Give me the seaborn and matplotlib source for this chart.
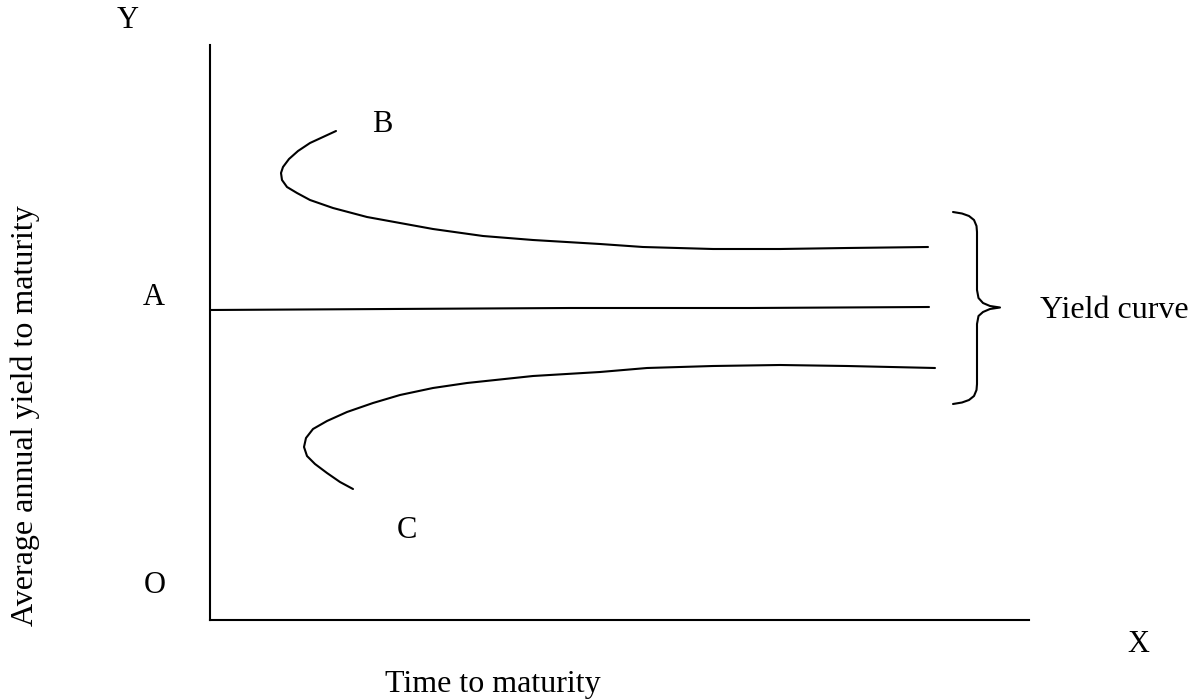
import numpy as np
import pandas as pd
import matplotlib
matplotlib.use("Agg")
import matplotlib.pyplot as plt
import seaborn as sns

# 曲線データ（軸原点からのピクセル相当の単位: x=満期までの期間, y=利回り）
curve_b_x = [126, 113, 100, 88, 79, 73, 71, 72, 77, 87, 100, 123, 157, 190, 223, 273, 323, 390,
             433, 503, 570, 637, 718]
curve_b_y = [489, 483, 477, 469, 461, 453, 447, 440, 433, 427, 420, 412, 403, 397, 391, 384, 380, 376,
             373, 371, 371, 372, 373]

line_a_x = [0, 180, 360, 540, 719]
line_a_y = [310, 311, 312, 312, 313]

curve_c_x = [143, 130, 117, 105, 97, 94, 96, 103, 117, 137, 163, 190, 223, 257, 323, 390,
             437, 503, 570, 637, 725]
curve_c_y = [131, 138, 147, 156, 164, 173, 182, 191, 199, 208, 217, 225, 232, 237, 244, 248,
             252, 254, 255, 254, 252]

brace_x = [743, 752, 759, 764, 766.5, 767, 767, 768.5, 773, 780, 790, 780, 773, 768.5, 767, 767,
           766.5, 764, 759, 752, 743]
brace_y = [408, 406.5, 404, 400, 394, 388, 330, 322, 317, 314, 312.5, 311, 308, 304, 296, 236,
           230, 224, 220, 217.5, 216]

# 記号ラベル（中心x, ベースラインy のピクセル位置）
point_labels = ["Y", "X", "O", "A", "B", "C"]
point_label_px = [(128, 28), (1138, 652), (155, 593), (154, 305), (382, 132), (407, 538)]

sns.set_theme(style="white")
plt.rcParams["font.family"] = ["Liberation Serif", "DejaVu Serif"]
plt.rcParams["text.color"] = "black"

W, H = 1199, 700
fig = plt.figure(figsize=(W / 100, H / 100), dpi=100)
ax = fig.add_axes([210 / W, (H - 620) / H, (1029 - 210) / W, (620 - 45) / H])
ax.set_xlim(0, 819)
ax.set_ylim(0, 575)

lw = 1.5
for xs, ys in [(curve_b_x, curve_b_y), (line_a_x, line_a_y), (curve_c_x, curve_c_y)]:
    df = pd.DataFrame({"x": xs, "y": ys})
    sns.lineplot(data=df, x="x", y="y", sort=False, estimator=None,
                 color="black", linewidth=lw, ax=ax)

ax.plot(brace_x, brace_y, color="black", linewidth=lw, clip_on=False,
        solid_joinstyle="round")

sns.despine(ax=ax)
for side in ["left", "bottom"]:
    ax.spines[side].set_color("black")
    ax.spines[side].set_linewidth(lw)
ax.set_xticks([])
ax.set_yticks([])
ax.set_xlabel("")
ax.set_ylabel("")

fs = 22
fs_big = 23
for lab, (px, py) in zip(point_labels, point_label_px):
    fig.text(px / W, 1 - py / H, lab, ha="center", va="baseline", fontsize=fs)

fig.text(1040 / W, 1 - 318 / H, "Yield curve", ha="left", va="baseline", fontsize=fs_big)
fig.text(493 / W, 1 - 692 / H, "Time to maturity", ha="center", va="baseline", fontsize=fs_big)
fig.text(33 / W, 1 - 416 / H, "Average annual yield to maturity", ha="center", va="baseline",
         rotation=90, rotation_mode="anchor", fontsize=fs_big)

fig.savefig("out.png", dpi=100)
